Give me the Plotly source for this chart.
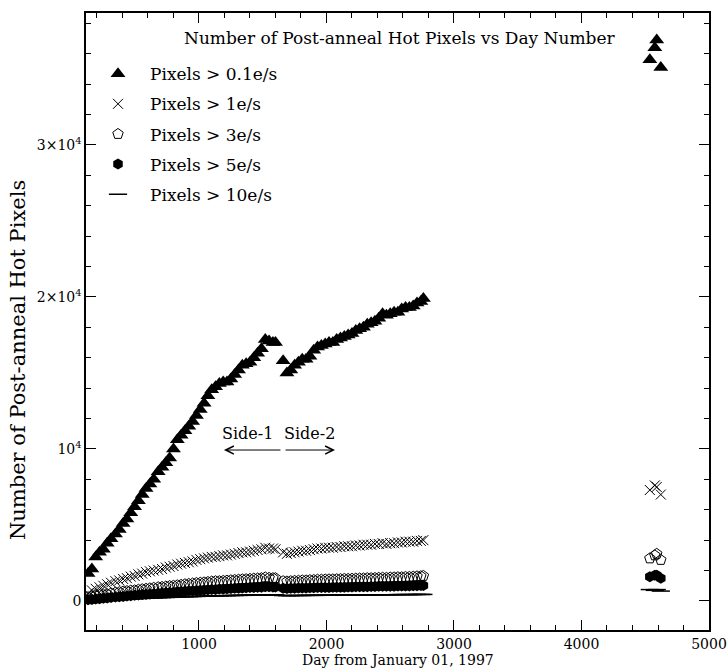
import plotly.graph_objects as go

# Observation days (days since 1997-01-01): side-1, side-2, and the late epoch
days_side1 = [130, 160, 190, 220, 250, 280, 310, 345, 375, 405,
              435, 465, 495, 525, 555, 585, 615, 645, 680, 710,
              740, 770, 800, 830, 860, 890, 920, 950, 980, 1010,
              1040, 1070, 1100, 1130, 1160, 1190, 1220, 1250, 1280, 1310,
              1340, 1370, 1400, 1430, 1460, 1490, 1520, 1550, 1580, 1600]
days_side2 = [1660, 1690, 1720, 1750, 1780, 1810, 1840, 1870, 1900, 1930,
              1960, 1990, 2020, 2050, 2080, 2110, 2140, 2170, 2200, 2230,
              2260, 2290, 2320, 2350, 2380, 2410, 2440, 2470, 2500, 2530,
              2560, 2590, 2620, 2650, 2680, 2710, 2740, 2760]
days_late = [4536, 4575, 4590, 4622]

# Hot-pixel counts in thousands for each threshold
hot_01 = [1.8, 2.1, 2.9, 3.2, 3.4, 3.8, 4.1, 4.4, 4.7, 5.1,
          5.4, 5.8, 6.2, 6.6, 7.0, 7.4, 7.7, 8.0, 8.5, 8.8,
          9.1, 9.4, 10.0, 10.6, 10.9, 11.2, 11.5, 11.8, 12.2, 12.6,
          13.0, 13.5, 13.9, 14.1, 14.3, 14.4, 14.4, 14.6, 14.9, 15.2,
          15.5, 15.6, 15.7, 16.0, 16.3, 16.6, 17.2, 17.1, 17.0, 17.0,
          15.8, 15.0, 15.2, 15.5, 15.7, 15.9, 15.9, 16.1, 16.5, 16.7,
          16.8, 16.9, 17.0, 17.0, 17.2, 17.3, 17.4, 17.5, 17.6, 17.8,
          17.9, 18.0, 18.2, 18.3, 18.4, 18.6, 18.9, 18.8, 18.9, 19.0,
          19.0, 19.2, 19.3, 19.3, 19.4, 19.6, 19.7, 19.9,
          35.6, 36.4, 36.9, 35.1]
hot_1 = [0.5, 0.7, 0.8, 0.9, 1.0, 1.1, 1.2, 1.3, 1.35, 1.45,
         1.5, 1.6, 1.65, 1.75, 1.8, 1.9, 1.95, 2.0, 2.05, 2.1,
         2.2, 2.25, 2.3, 2.4, 2.45, 2.5, 2.55, 2.6, 2.7, 2.75,
         2.8, 2.85, 2.9, 2.9, 2.95, 3.0, 3.0, 3.05, 3.1, 3.15,
         3.2, 3.2, 3.25, 3.3, 3.35, 3.4, 3.5, 3.45, 3.45, 3.4,
         3.2, 3.1, 3.15, 3.2, 3.25, 3.3, 3.3, 3.35, 3.4, 3.45,
         3.45, 3.5, 3.5, 3.5, 3.55, 3.55, 3.6, 3.6, 3.6, 3.65,
         3.65, 3.7, 3.7, 3.7, 3.75, 3.75, 3.8, 3.75, 3.8, 3.8,
         3.85, 3.85, 3.9, 3.9, 3.9, 3.95, 3.95, 4.0,
         7.3, 7.6, 7.5, 7.0]
hot_3 = [0.25, 0.3, 0.35, 0.4, 0.42, 0.45, 0.5, 0.55, 0.58, 0.62,
         0.65, 0.68, 0.7, 0.74, 0.77, 0.8, 0.83, 0.86, 0.9, 0.92,
         0.95, 0.98, 1.0, 1.03, 1.06, 1.1, 1.12, 1.15, 1.18, 1.2,
         1.22, 1.25, 1.28, 1.3, 1.3, 1.32, 1.34, 1.36, 1.38, 1.4,
         1.42, 1.43, 1.45, 1.47, 1.48, 1.5, 1.55, 1.52, 1.5, 1.5,
         1.3, 1.28, 1.3, 1.32, 1.33, 1.35, 1.35, 1.37, 1.38, 1.4,
         1.4, 1.41, 1.42, 1.42, 1.43, 1.44, 1.45, 1.45, 1.46, 1.47,
         1.48, 1.48, 1.5, 1.5, 1.51, 1.52, 1.53, 1.52, 1.54, 1.55,
         1.56, 1.56, 1.58, 1.58, 1.6, 1.62, 1.63, 1.65,
         2.8, 3.0, 3.1, 2.7]
hot_5 = [0.08, 0.1, 0.13, 0.15, 0.18, 0.2, 0.23, 0.26, 0.28, 0.3,
         0.33, 0.35, 0.37, 0.4, 0.42, 0.44, 0.46, 0.48, 0.5, 0.52,
         0.54, 0.56, 0.58, 0.6, 0.62, 0.64, 0.65, 0.67, 0.69, 0.7,
         0.72, 0.73, 0.75, 0.76, 0.78, 0.79, 0.8, 0.82, 0.83, 0.84,
         0.86, 0.87, 0.88, 0.89, 0.9, 0.91, 0.94, 0.93, 0.92, 0.92,
         0.84, 0.82, 0.83, 0.84, 0.85, 0.86, 0.86, 0.87, 0.87, 0.88,
         0.88, 0.89, 0.89, 0.9, 0.9, 0.91, 0.91, 0.92, 0.92, 0.93,
         0.93, 0.94, 0.94, 0.95, 0.95, 0.96, 0.96, 0.96, 0.97, 0.97,
         0.98, 0.98, 0.99, 0.99, 1.0, 1.0, 1.01, 1.02,
         1.6, 1.7, 1.7, 1.5]
hot_10 = [0.02, 0.03, 0.05, 0.06, 0.07, 0.08, 0.09, 0.1, 0.11, 0.12,
          0.13, 0.14, 0.15, 0.16, 0.17, 0.18, 0.19, 0.2, 0.21, 0.22,
          0.23, 0.24, 0.25, 0.26, 0.27, 0.28, 0.28, 0.29, 0.3, 0.31,
          0.32, 0.32, 0.33, 0.34, 0.34, 0.35, 0.35, 0.36, 0.36, 0.37,
          0.37, 0.38, 0.38, 0.39, 0.39, 0.4, 0.41, 0.41, 0.4, 0.4,
          0.36, 0.35, 0.35, 0.36, 0.36, 0.36, 0.37, 0.37, 0.37, 0.37,
          0.38, 0.38, 0.38, 0.38, 0.38, 0.39, 0.39, 0.39, 0.39, 0.39,
          0.4, 0.4, 0.4, 0.4, 0.4, 0.41, 0.41, 0.41, 0.41, 0.41,
          0.42, 0.42, 0.42, 0.42, 0.42, 0.43, 0.43, 0.43,
          0.75, 0.7, 0.75, 0.65]

series_names = ["Pixels > 0.1e/s", "Pixels > 1e/s", "Pixels > 3e/s",
                "Pixels > 5e/s", "Pixels > 10e/s"]
y_tick_vals = [0, 10000, 20000, 30000]
y_tick_text = ["0", "10<sup>4</sup>", "2×10<sup>4</sup>", "3×10<sup>4</sup>"]
x_tick_vals = [1000, 2000, 3000, 4000, 5000]

days = days_side1 + days_side2 + days_late
FONT = "DejaVu Serif"
BLACK = "black"

styles = [
    dict(symbol="triangle-up", size=13, color=BLACK),
    dict(symbol="x-thin-open", size=10, color=BLACK, line=dict(color=BLACK, width=1)),
    dict(symbol="pentagon-open", size=11, color=BLACK, line=dict(color=BLACK, width=1)),
    dict(symbol="hexagon", size=11, color=BLACK),
    dict(symbol="line-ew", size=13, color=BLACK, line=dict(color=BLACK, width=1.5)),
]

fig = go.Figure()
for i, (name, vals, mk) in enumerate(zip(series_names,
                                         [hot_01, hot_1, hot_3, hot_5, hot_10],
                                         styles)):
    fig.add_trace(go.Scatter(
        x=days, y=[v * 1000 for v in vals], mode="markers", name=name,
        legendgroup=f"g{i}", marker=mk,
    ))

axis_common = dict(
    showline=True, linecolor=BLACK, linewidth=1.5, mirror="ticks",
    ticks="inside", ticklen=10, tickwidth=1, tickcolor=BLACK,
    showgrid=False, zeroline=False, automargin=False,
    ticklabeloverflow="allow",
    tickfont=dict(family=FONT, size=14, color=BLACK),
)

fig.update_xaxes(
    range=[114, 5000], tickvals=x_tick_vals, ticklabelstandoff=0,
    minor=dict(dtick=200, ticks="inside", ticklen=5, tickcolor=BLACK, showgrid=False),
    **axis_common,
)
fig.update_yaxes(
    range=[-1910, 38680], tickvals=y_tick_vals, ticktext=y_tick_text,
    minor=dict(dtick=2000, ticks="inside", ticklen=5, tickcolor=BLACK, showgrid=False),
    **axis_common,
)

# Axis titles
fig.add_annotation(text="Day from January 01, 1997", xref="paper", yref="paper",
                   x=0.5008, y=-0.0494, xanchor="center", yanchor="middle", showarrow=False,
                   font=dict(family=FONT, size=14, color=BLACK))
fig.add_annotation(text="Number of Post-anneal Hot Pixels", xref="paper", yref="paper",
                   x=-0.109, y=0.4376, xanchor="center", yanchor="middle", textangle=-90,
                   showarrow=False, font=dict(family=FONT, size=21, color=BLACK))

# Chart heading inside the frame
fig.add_annotation(
    text="Number of Post-anneal Hot Pixels vs Day Number",
    xref="paper", yref="paper", x=0.504, y=0.9595, xanchor="center", yanchor="middle",
    showarrow=False, font=dict(family=FONT, size=17, color=BLACK),
)
fig.add_annotation(text="Side-1", x=1377, y=11050, showarrow=False, yanchor="middle",
                   font=dict(family=FONT, size=16, color=BLACK))
fig.add_annotation(text="Side-2", x=1863, y=11050, showarrow=False, yanchor="middle",
                   font=dict(family=FONT, size=16, color=BLACK))
# Direction arrows for the two readout sides
fig.add_annotation(x=1196, y=9930, ax=1651, ay=9930, axref="x", ayref="y", text="",
                   showarrow=True, arrowhead=5, arrowsize=1.6, arrowwidth=1, arrowcolor=BLACK)
fig.add_annotation(x=2067, y=9930, ax=1667, ay=9930, axref="x", ayref="y", text="",
                   showarrow=True, arrowhead=5, arrowsize=1.6, arrowwidth=1, arrowcolor=BLACK)

fig.update_layout(
    width=728, height=670,
    margin=dict(l=86, r=19, t=13, b=40),
    paper_bgcolor="white", plot_bgcolor="white",
    showlegend=True,
    legend=dict(x=0.0, y=0.930, xanchor="left", yanchor="top",
                bgcolor="rgba(0,0,0,0)", tracegroupgap=5, itemwidth=54,
                font=dict(family=FONT, size=17, color=BLACK)),
)

fig.write_html("out.html")
